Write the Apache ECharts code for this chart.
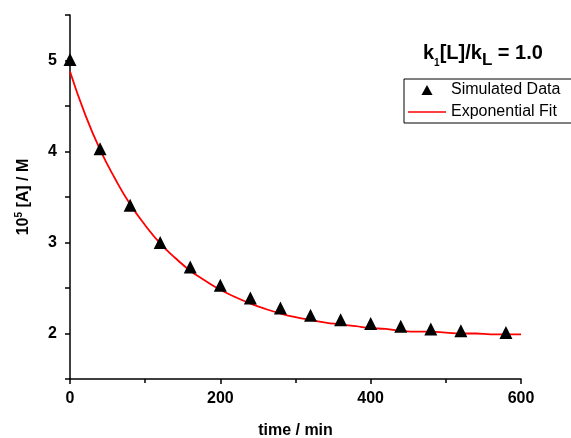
<!DOCTYPE html>
<html>
<head>
<meta charset="utf-8">
<script src="https://cdn.jsdelivr.net/npm/echarts@6/dist/echarts.min.js"></script>
<style>
html,body{margin:0;padding:0;background:#fff;}
#c{width:571px;height:438px;}
</style>
</head>
<body>
<div id="c"></div>
<script>
// Simulated data (time in min, 10^5 [A] in M)
const simTime = [0, 40, 80, 120, 160, 200, 240, 280, 320, 360, 400, 440, 480, 520, 580];
const simValue = [5.01, 4.03, 3.41, 3.00, 2.73, 2.53, 2.39, 2.28, 2.20, 2.15, 2.11, 2.08, 2.05, 2.03, 2.01];

// Exponential fit curve
const fitTime = [0, 20, 40, 60, 80, 100, 120, 140, 160, 180, 200, 220, 240, 260, 280, 300,
  320, 340, 360, 380, 400, 420, 440, 460, 480, 500, 520, 540, 560, 580, 600];
const fitValue = [4.88, 4.41, 4.02, 3.70, 3.42, 3.19, 2.99, 2.83, 2.69, 2.58, 2.48, 2.40, 2.33, 2.27, 2.22, 2.18,
  2.15, 2.12, 2.10, 2.08, 2.06, 2.05, 2.03, 2.02, 2.02, 2.01, 2.00, 2.00, 1.99, 1.99, 1.99];

const seriesNames = ['Simulated Data', 'Exponential Fit'];
const xTicks = [0, 200, 400, 600];
const yTicks = [2, 3, 4, 5];

const font = 'Arial, "Liberation Sans", Helvetica, sans-serif';
const chart = echarts.init(document.getElementById('c'), null, {renderer: 'canvas'});

chart.setOption({
  animation: false,
  backgroundColor: '#fff',
  title: {
    left: 418,
    top: 34,
    text: '{b|k}{s|1}{b|[L]/k}{t|L}{b| = 1.0}',
    textStyle: {
      rich: {
        b: {fontFamily: font, fontWeight: 'bold', fontSize: 20, color: '#000', lineHeight: 24, verticalAlign: 'bottom'},
        s: {fontFamily: font, fontWeight: 'bold', fontSize: 10, color: '#000', lineHeight: 24, verticalAlign: 'bottom', padding: [0, 0, -5, 0]},
        t: {fontFamily: font, fontWeight: 'bold', fontSize: 17, color: '#000', lineHeight: 24, verticalAlign: 'bottom', padding: [0, 0, -6, 0]}
      }
    }
  },
  legend: {
    orient: 'vertical',
    left: 404,
    top: 79,
    symbolKeepAspect: true,
    data: [
      {name: seriesNames[0], icon: 'path://M5,0L10,9L0,9Z', itemStyle: {color: '#000', borderWidth: 0}},
      {name: seriesNames[1], icon: 'path://M0,0L38,0L38,1.5L0,1.5Z', itemStyle: {color: '#ff0000', borderWidth: 0}}
    ],
    borderColor: '#000',
    borderWidth: 1,
    borderRadius: 0,
    padding: [2, 30, 2, 4],
    itemGap: 4,
    itemWidth: 38,
    itemHeight: 10,
    textStyle: {fontFamily: font, fontSize: 16, color: '#000', lineHeight: 18}
  },
  grid: {left: 70, right: 50, top: 15, bottom: 59, outerBoundsMode: 'none', containLabel: false},
  xAxis: {
    type: 'value',
    min: 0,
    max: 600,
    interval: 200,
    name: 'time / min',
    nameLocation: 'middle',
    nameGap: 44,
    nameTextStyle: {fontFamily: font, fontWeight: 'bold', fontSize: 16, color: '#000'},
    axisLine: {show: true, lineStyle: {color: '#000', width: 1.5}},
    axisTick: {show: true, length: 5, lineStyle: {color: '#000', width: 1.5}},
    minorTick: {show: true, splitNumber: 2, length: 4, lineStyle: {color: '#000', width: 1.5}},
    splitLine: {show: false},
    axisLabel: {
      fontFamily: font, fontWeight: 'bold', fontSize: 16, color: '#000', margin: 12,
      formatter: v => (xTicks.includes(v) ? String(v) : '')
    }
  },
  yAxis: {
    type: 'value',
    min: 1.5,
    max: 5.5,
    interval: 0.5,
    name: '{a|10}{s|5}{a| [A] / M}',
    nameLocation: 'middle',
    nameGap: 38,
    nameTextStyle: {
      rich: {
        a: {fontFamily: font, fontWeight: 'bold', fontSize: 16, color: '#000', lineHeight: 20, verticalAlign: 'bottom'},
        s: {fontFamily: font, fontWeight: 'bold', fontSize: 10, color: '#000', lineHeight: 20, verticalAlign: 'bottom', padding: [0, 0, 8, 0]}
      }
    },
    axisLine: {show: true, lineStyle: {color: '#000', width: 1.5}},
    axisTick: {show: true, length: 5, lineStyle: {color: '#000', width: 1.5}},
    splitLine: {show: false},
    axisLabel: {
      fontFamily: font, fontWeight: 'bold', fontSize: 16, color: '#000', margin: 13,
      formatter: v => (yTicks.some(t => Math.abs(t - v) < 1e-9) ? String(Math.round(v)) : '')
    }
  },
  series: [
    {
      name: seriesNames[0],
      type: 'scatter',
      symbol: 'triangle',
      symbolSize: 13,
      itemStyle: {color: '#000', opacity: 1},
      z: 3,
      data: simTime.map((t, i) => [t, simValue[i]])
    },
    {
      name: seriesNames[1],
      type: 'line',
      smooth: true,
      showSymbol: false,
      symbol: 'none',
      lineStyle: {color: '#ff0000', width: 1.8},
      itemStyle: {color: '#ff0000'},
      z: 2,
      data: fitTime.map((t, i) => [t, fitValue[i]])
    }
  ]
});
</script>
</body>
</html>
